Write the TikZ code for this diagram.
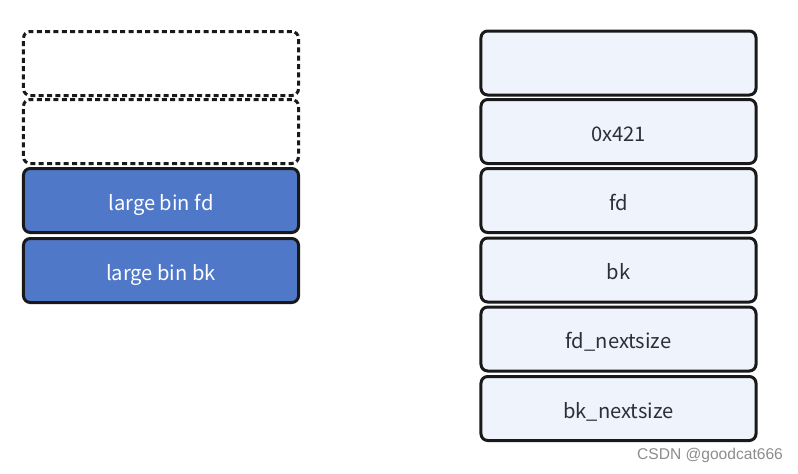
\documentclass[tikz,border=0pt]{standalone}
\usepackage{fontspec}
\setmainfont{Noto Sans CJK SC}
\newfontfamily\wmfont{Liberation Sans}

\definecolor{binblue}{HTML}{5078C8}
\definecolor{chunkfill}{HTML}{EEF3FC}
\definecolor{textgrey}{HTML}{2E2E38}

\begin{document}
\begin{tikzpicture}[x=0.03cm, y=-0.03cm,
    cell/.style={draw=black!90, line width=0.09cm, rounded corners=0.2cm,
        minimum width=8.25cm, minimum height=1.92cm, inner sep=0pt,
        text height=18pt, text depth=1pt,
        font=\fontsize{17.2}{20}\selectfont},
    freecell/.style={cell, dash pattern=on 0.15cm off 0.1cm},
    bincell/.style={cell, fill=binblue, text=white},
    chunkcell/.style={cell, fill=chunkfill, text=textgrey}]
    % Picture size in pixels (1px = 0.03cm)
    \def\leftx{161}
    \def\rightx{618.5}
    \useasboundingbox (0,0) rectangle (798,474);

    % Left column: freed chunk with large bin pointers
    \node[freecell] (free1) at (\leftx, 63.5) {};
    \node[freecell] (free2) at (\leftx, 131.5) {};
    \node[bincell] (binfd) at (\leftx, 200.5) {large bin fd};
    \node[bincell] (binbk) at (\leftx, 270.5) {large bin bk};

    % Right column: chunk header and pointers
    \node[chunkcell] (prevsize) at (\rightx, 63) {};
    \node[chunkcell] (size) at (\rightx, 131.5) {0x421};
    \node[chunkcell] (fd) at (\rightx, 200.5) {fd};
    \node[chunkcell] (bk) at (\rightx, 270) {bk};
    \node[chunkcell] (fdnext) at (\rightx, 339) {fd\_nextsize};
    \node[chunkcell] (bknext) at (\rightx, 408.5) {bk\_nextsize};

    % Watermark
    \node[text=black!45, font=\wmfont\fontsize{13.3}{15}\selectfont] (mark) at (710, 455) {CSDN @goodcat666};
\end{tikzpicture}
\end{document}
